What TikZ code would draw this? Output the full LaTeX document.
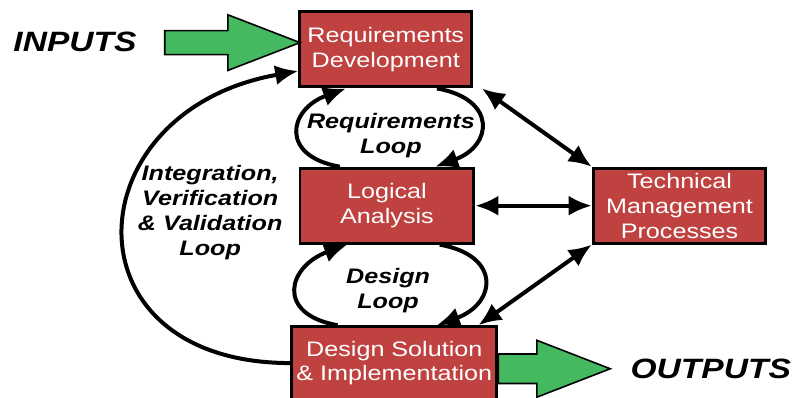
\documentclass[tikz,border=0pt]{standalone}
\usepackage{fontspec}
\setmainfont{Liberation Sans}[FakeStretch=1.2]
\usetikzlibrary{arrows.meta}
\definecolor{boxred}{RGB}{192,66,64}
\definecolor{arrowgreen}{RGB}{68,185,96}

\begin{document}
\begin{tikzpicture}[>/.tip={Latex[length=11.5pt,width=10pt]},
	box/.style={draw,line width=1.5pt,fill=boxred,text=white,align=center,inner sep=0pt,font=\fontsize{10.5}{12.5}\selectfont},
	lbl/.style={align=center,font=\fontsize{10.5}{12.5}\selectfont\bfseries\itshape},
	io/.style={font=\fontsize{14}{16}\selectfont\bfseries\itshape},
	flow/.style={line width=2pt}]
	\useasboundingbox (0,0) rectangle (14.01,7.0);

	\draw (6.79,6.13) node (req) [box,minimum width=3.03cm,minimum height=1.32cm] {Requirements\\Development};
	\draw (6.81,3.38) node (logic) [box,minimum width=3.06cm,minimum height=1.32cm] {Logical\\Analysis};
	\draw (6.94,0.61) node (design) [box,minimum width=3.61cm,minimum height=1.28cm] {Design Solution\\\& Implementation};
	\draw (11.96,3.38) node (tmp) [box,minimum width=3.04cm,minimum height=1.32cm] {Technical\\Management\\Processes};

	\draw (1.32,6.27) node (in) [io] {INPUTS};
	\draw (12.51,0.51) node (out) [io] {OUTPUTS};
	\draw (3.70,3.26) node (ivv) [lbl] {Integration,\\Verification\\\& Validation\\Loop};
	\draw (6.88,4.62) node (reqloop) [lbl] {Requirements\\Loop};
	\draw (6.83,1.88) node (desloop) [lbl] {Design\\Loop};

	% green in/out arrows
	\draw[fill=arrowgreen,line width=0.8pt] (2.90,6.46) -- (4.01,6.46) -- (4.01,6.74) -- (5.28,6.25) -- (4.01,5.76) -- (4.01,6.04) -- (2.90,6.04) -- cycle;
	\draw[fill=arrowgreen,line width=0.8pt] (design.east |- 0,0.77) -- (9.45,0.77) -- (9.45,1.01) -- (10.74,0.51) -- (9.45,0.01) -- (9.45,0.25) -- (design.east |- 0,0.25) -- cycle;

	% loops
	\draw[->,flow] ([xshift=-0.83cm]logic.north) to [out=170,in=200,looseness=2] ([xshift=-0.7cm]req.south);
	\draw[->,flow] ([xshift=0.9cm]req.south) to [out=-10,in=20,looseness=2] ([xshift=0.85cm]logic.north);
	\draw[->,flow] ([xshift=-1.0cm]design.north) to [out=170,in=200,looseness=2] ([xshift=-0.7cm]logic.south);
	\draw[->,flow] ([xshift=0.93cm]logic.south) to [out=-10,in=20,looseness=2] ([xshift=0.75cm]design.north);
	\draw[->,flow] (design.west) to [out=180,in=190,looseness=2] ([yshift=-0.38cm]req.west);

	% links to technical management
	\draw[<->,flow] ([xshift=0.15cm]req.south east) -- (tmp.north west);
	\draw[<->,flow] (logic.east) -- (tmp.west);
	\draw[<->,flow] ([xshift=-0.35cm]design.north east) -- (tmp.south west);
\end{tikzpicture}
\end{document}
